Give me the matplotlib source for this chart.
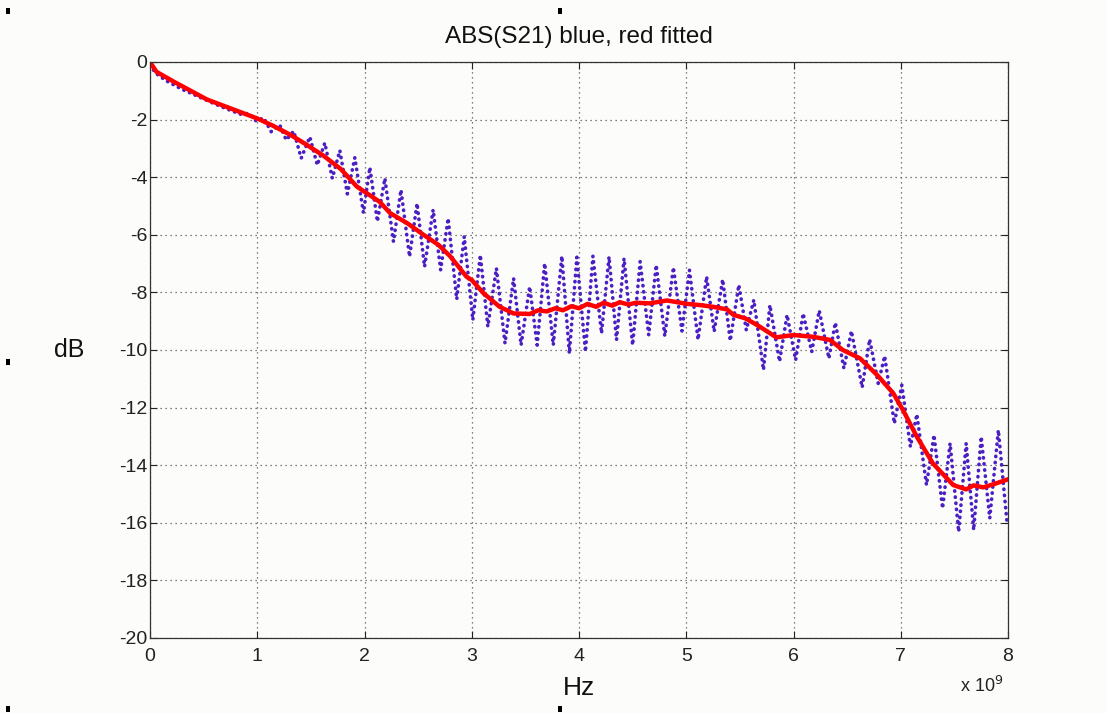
import numpy as np
import matplotlib
matplotlib.use("Agg")
import matplotlib.pyplot as plt
from matplotlib.patches import Rectangle

# ---- data (frequency in units of 1e9 Hz, magnitude in dB) ----
blue_peak_f = [0.0, 0.05, 0.15, 0.30, 0.45, 0.60, 0.75, 0.92, 1.06, 1.21, 1.34, 1.49, 1.63, 1.77,
               1.91, 2.05, 2.19, 2.34, 2.49, 2.64, 2.78, 2.93, 3.08, 3.23, 3.39, 3.54, 3.68,
               3.84, 3.98, 4.13, 4.28, 4.42, 4.57, 4.72, 4.88, 5.03, 5.19, 5.34, 5.49, 5.63,
               5.78, 5.94, 6.09, 6.24, 6.39, 6.54, 6.71, 6.85, 7.01, 7.15, 7.31, 7.46, 7.61,
               7.75, 7.91]
blue_peak_db = [-0.10, -0.38, -0.65, -0.95, -1.20, -1.45, -1.68, -1.78, -1.94, -2.19, -2.40, -2.60,
                -2.81, -3.07, -3.32, -3.66, -4.04, -4.44, -4.91, -5.13, -5.43, -6.06, -6.70,
                -7.16, -7.51, -7.80, -6.99, -6.74, -6.78, -6.74, -6.76, -6.82, -6.93, -7.05,
                -7.13, -7.23, -7.45, -7.55, -7.74, -8.26, -8.44, -8.78, -8.73, -8.63, -9.05,
                -9.34, -9.63, -10.21, -11.22, -12.23, -12.95, -13.24, -13.24, -13.01, -12.78]
blue_trough_f = [0.85, 0.99, 1.13, 1.27, 1.41, 1.56, 1.70, 1.84, 1.99, 2.12, 2.27, 2.42, 2.56,
                 2.71, 2.86, 3.01, 3.15, 3.31, 3.46, 3.61, 3.76, 3.91, 4.06, 4.21, 4.35, 4.50,
                 4.65, 4.80, 4.96, 5.11, 5.26, 5.41, 5.56, 5.72, 5.87, 6.02, 6.17, 6.33, 6.47,
                 6.64, 6.79, 6.94, 7.09, 7.24, 7.39, 7.54, 7.68, 7.83, 7.99]
blue_trough_db = [-1.82, -2.05, -2.42, -2.71, -3.34, -3.58, -4.04, -4.58, -5.24, -5.54, -6.24,
                  -6.76, -7.11, -7.22, -8.24, -8.96, -9.19, -9.77, -9.83, -9.83, -9.83, -10.12,
                  -10.06, -9.42, -9.65, -9.83, -9.48, -9.52, -9.34, -9.64, -9.36, -9.68, -9.31,
                  -10.69, -10.40, -10.35, -10.06, -10.29, -10.64, -11.30, -11.16, -12.55,
                  -13.36, -14.69, -15.50, -16.31, -16.25, -15.84, -15.96]

red_f = [0.0, 0.06, 0.22, 0.53, 0.80, 1.00, 1.15, 1.31, 1.45, 1.62, 1.78, 1.93, 2.14, 2.24,
         2.40, 2.55, 2.69, 2.80, 2.95, 3.00, 3.11, 3.26, 3.39, 3.54, 3.62, 3.70, 3.78, 3.85,
         3.93, 4.00, 4.08, 4.16, 4.23, 4.31, 4.38, 4.46, 4.53, 4.66, 4.82, 5.01, 5.13, 5.25,
         5.38, 5.44, 5.55, 5.66, 5.84, 6.00, 6.18, 6.34, 6.46, 6.62, 6.78, 6.93, 7.02, 7.15,
         7.30, 7.49, 7.61, 7.68, 7.77, 7.89, 8.00]
red_db = [0.0, -0.34, -0.68, -1.30, -1.68, -1.96, -2.22, -2.53, -2.85, -3.26, -3.72, -4.33,
          -4.85, -5.25, -5.60, -6.00, -6.35, -6.75, -7.45, -7.57, -8.03, -8.50, -8.73, -8.75,
          -8.62, -8.66, -8.55, -8.62, -8.48, -8.55, -8.40, -8.50, -8.36, -8.46, -8.34, -8.42,
          -8.36, -8.38, -8.28, -8.40, -8.44, -8.50, -8.59, -8.78, -8.90, -9.13, -9.56, -9.48,
          -9.54, -9.65, -10.00, -10.29, -10.87, -11.50, -12.08, -13.01, -13.94, -14.69,
          -14.84, -14.70, -14.77, -14.63, -14.49]

x_ticks = [0, 1, 2, 3, 4, 5, 6, 7, 8]
y_ticks = [-20, -18, -16, -14, -12, -10, -8, -6, -4, -2, 0]

# merge peaks and troughs of the measured curve in frequency order
blue_f = np.array(blue_peak_f + blue_trough_f)
blue_db = np.array(blue_peak_db + blue_trough_db)
order = np.argsort(blue_f)
blue_f, blue_db = blue_f[order], blue_db[order]

plt.rcParams['font.family'] = ['Liberation Sans', 'DejaVu Sans']
bg = '#fcfcfa'
fig = plt.figure(figsize=(11.07, 7.13), dpi=100, facecolor=bg)
ax = fig.add_axes([150 / 1107, 1 - 638 / 713, 858 / 1107, 576 / 713], facecolor=bg)

ax.plot(blue_f, blue_db, color='#4a1fc4', linestyle=(0, (0.1, 1.6)), linewidth=2.6,
        dash_capstyle='round')
ax.plot(red_f, red_db, color='#ff0000', linewidth=3.2, solid_joinstyle='round')

ax.set_xlim(0, 8)
ax.set_ylim(-20, 0)
ax.set_xticks(x_ticks)
ax.set_yticks(y_ticks)
ax.set_xticklabels([str(v) for v in x_ticks])
ax.set_yticklabels([str(v) for v in y_ticks])
ax.tick_params(direction='in', length=5, width=0.8, top=True, right=True,
               labelsize=14, colors='#222222')
ax.tick_params(axis='y', pad=2)
ax.tick_params(axis='x', pad=7)
ax.grid(True, color='#555555', linestyle=(0, (1, 3)), linewidth=0.9)
for s in ax.spines.values():
    s.set_color('#333333')
    s.set_linewidth(0.9)

ax.set_title('ABS(S21) blue, red fitted', fontsize=17.5, pad=14, color='#111111')
ax.set_xlabel('Hz', fontsize=19, labelpad=8, color='#111111')
ax.set_ylabel('dB', fontsize=18, rotation=0, labelpad=36, color='#111111', va='center')
fig.text(960 / 1107, 1 - 686 / 713, 'x 10$^{9}$', fontsize=13, color='#222222', va='center')

# small black handle squares visible in the picture
for (px, py) in [(8, 11), (560, 11), (8, 362), (8, 709), (560, 709)]:
    fig.add_artist(Rectangle((px / 1107 - 2 / 1107, 1 - py / 713 - 3 / 713), 4 / 1107, 6 / 713,
                             transform=fig.transFigure, color='black', lw=0))

fig.savefig('out.png', dpi=100, facecolor=bg)
